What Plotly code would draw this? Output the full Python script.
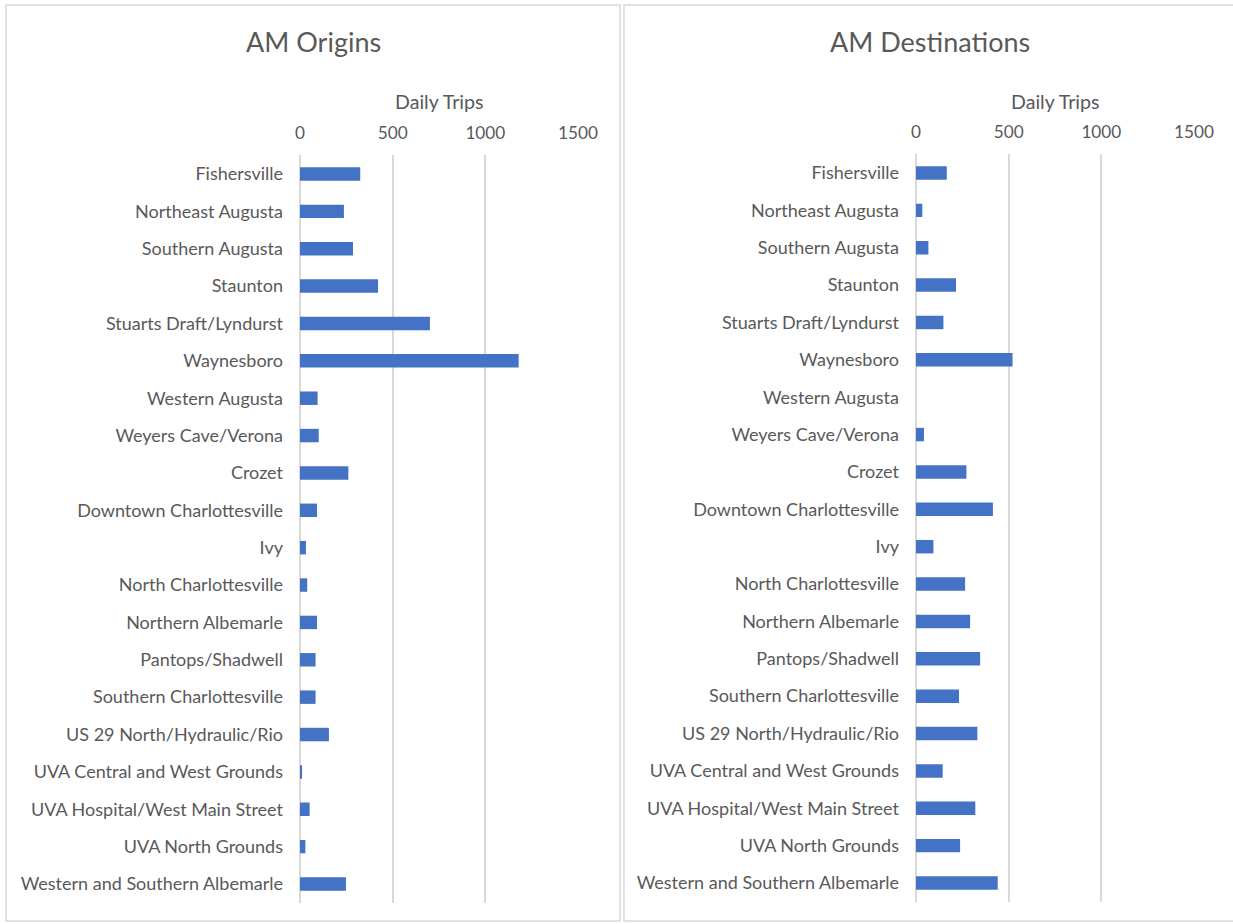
import plotly.graph_objects as go

categories = [
    "Fishersville", "Northeast Augusta", "Southern Augusta", "Staunton",
    "Stuarts Draft/Lyndurst", "Waynesboro", "Western Augusta", "Weyers Cave/Verona",
    "Crozet", "Downtown Charlottesville", "Ivy", "North Charlottesville",
    "Northern Albemarle", "Pantops/Shadwell", "Southern Charlottesville",
    "US 29 North/Hydraulic/Rio", "UVA Central and West Grounds",
    "UVA Hospital/West Main Street", "UVA North Grounds", "Western and Southern Albemarle",
]
am_origins = [325, 237, 286, 421, 701, 1180, 95, 101, 261, 92, 32, 39, 92, 84, 84,
              156, 11, 52, 29, 248]
am_destinations = [166, 34, 67, 216, 148, 521, 0, 43, 272, 415, 94, 265, 292, 346, 232,
                   331, 144, 320, 238, 441]
x_ticks = [0, 500, 1000, 1500]
titles = ["AM Origins", "AM Destinations"]
axis_title = "Daily Trips"

W, H = 1233, 924
FONT = "Lato, Carlito, Calibri, sans-serif"
TXT = "#595959"
GRID = "#D9D9D9"
BAR = "#4472C4"

def px_x(v):
    return v / W

def px_y(v):
    return 1 - v / H

fig = go.Figure()
fig.add_trace(go.Bar(y=categories, x=am_origins, orientation="h", width=0.36,
                     marker=dict(color=BAR, line=dict(width=0)),
                     xaxis="x", yaxis="y", showlegend=False))
fig.add_trace(go.Bar(y=categories, x=am_destinations, orientation="h", width=0.36,
                     marker=dict(color=BAR, line=dict(width=0)),
                     xaxis="x2", yaxis="y2", showlegend=False))

xcommon = dict(range=[0, 1500], tickvals=x_ticks, side="top", showgrid=True,
               gridcolor=GRID, gridwidth=2, zeroline=True, zerolinecolor=GRID,
               zerolinewidth=2, showline=False, ticks="", automargin=False,
               tickfont=dict(family=FONT, size=17.2, color=TXT),
               ticklabelstandoff=12, fixedrange=True)
ycommon = dict(categoryorder="array", categoryarray=categories, autorange="reversed",
               showgrid=False, zeroline=False, showline=False, ticks="", automargin=False,
               tickfont=dict(family=FONT, size=18, color=TXT),
               ticklabelstandoff=16, fixedrange=True)

fig.update_layout(
    width=W, height=H, margin=dict(l=0, r=0, t=0, b=0, pad=0), autosize=False,
    paper_bgcolor="white", plot_bgcolor="white",
    xaxis=dict(domain=[px_x(300), px_x(578)], anchor="y", **xcommon),
    yaxis=dict(domain=[px_y(902.7), px_y(155.3)], anchor="x", **ycommon),
    xaxis2=dict(domain=[px_x(916), px_x(1194)], anchor="y2", **xcommon),
    yaxis2=dict(domain=[px_y(901.7), px_y(154.3)], anchor="x2", **ycommon),
    bargap=0.6,
)

# panel borders
fig.add_shape(type="rect", xref="paper", yref="paper",
              x0=px_x(6), x1=px_x(620), y0=px_y(921), y1=px_y(5),
              line=dict(color=GRID, width=1.5), fillcolor="rgba(0,0,0,0)", layer="below")
fig.add_shape(type="rect", xref="paper", yref="paper",
              x0=px_x(624), x1=px_x(1240), y0=px_y(921), y1=px_y(5),
              line=dict(color=GRID, width=1.5), fillcolor="rgba(0,0,0,0)", layer="below")

# titles
for cx, t in [(313, titles[0]), (930, titles[1])]:
    fig.add_annotation(x=px_x(cx), y=px_y(41), xref="paper", yref="paper",
                       text=t, showarrow=False, xanchor="center", yanchor="middle",
                       font=dict(family=FONT, size=27, color=TXT))
for cx, cy in [(439, 102), (1055, 101)]:
    fig.add_annotation(x=px_x(cx), y=px_y(cy), xref="paper", yref="paper",
                       text=axis_title, showarrow=False, xanchor="center", yanchor="middle",
                       font=dict(family=FONT, size=19.6, color=TXT))

fig.write_html("out.html", config={"displayModeBar": False},
               post_script="document.body.style.margin='0';document.body.style.overflow='hidden';")
